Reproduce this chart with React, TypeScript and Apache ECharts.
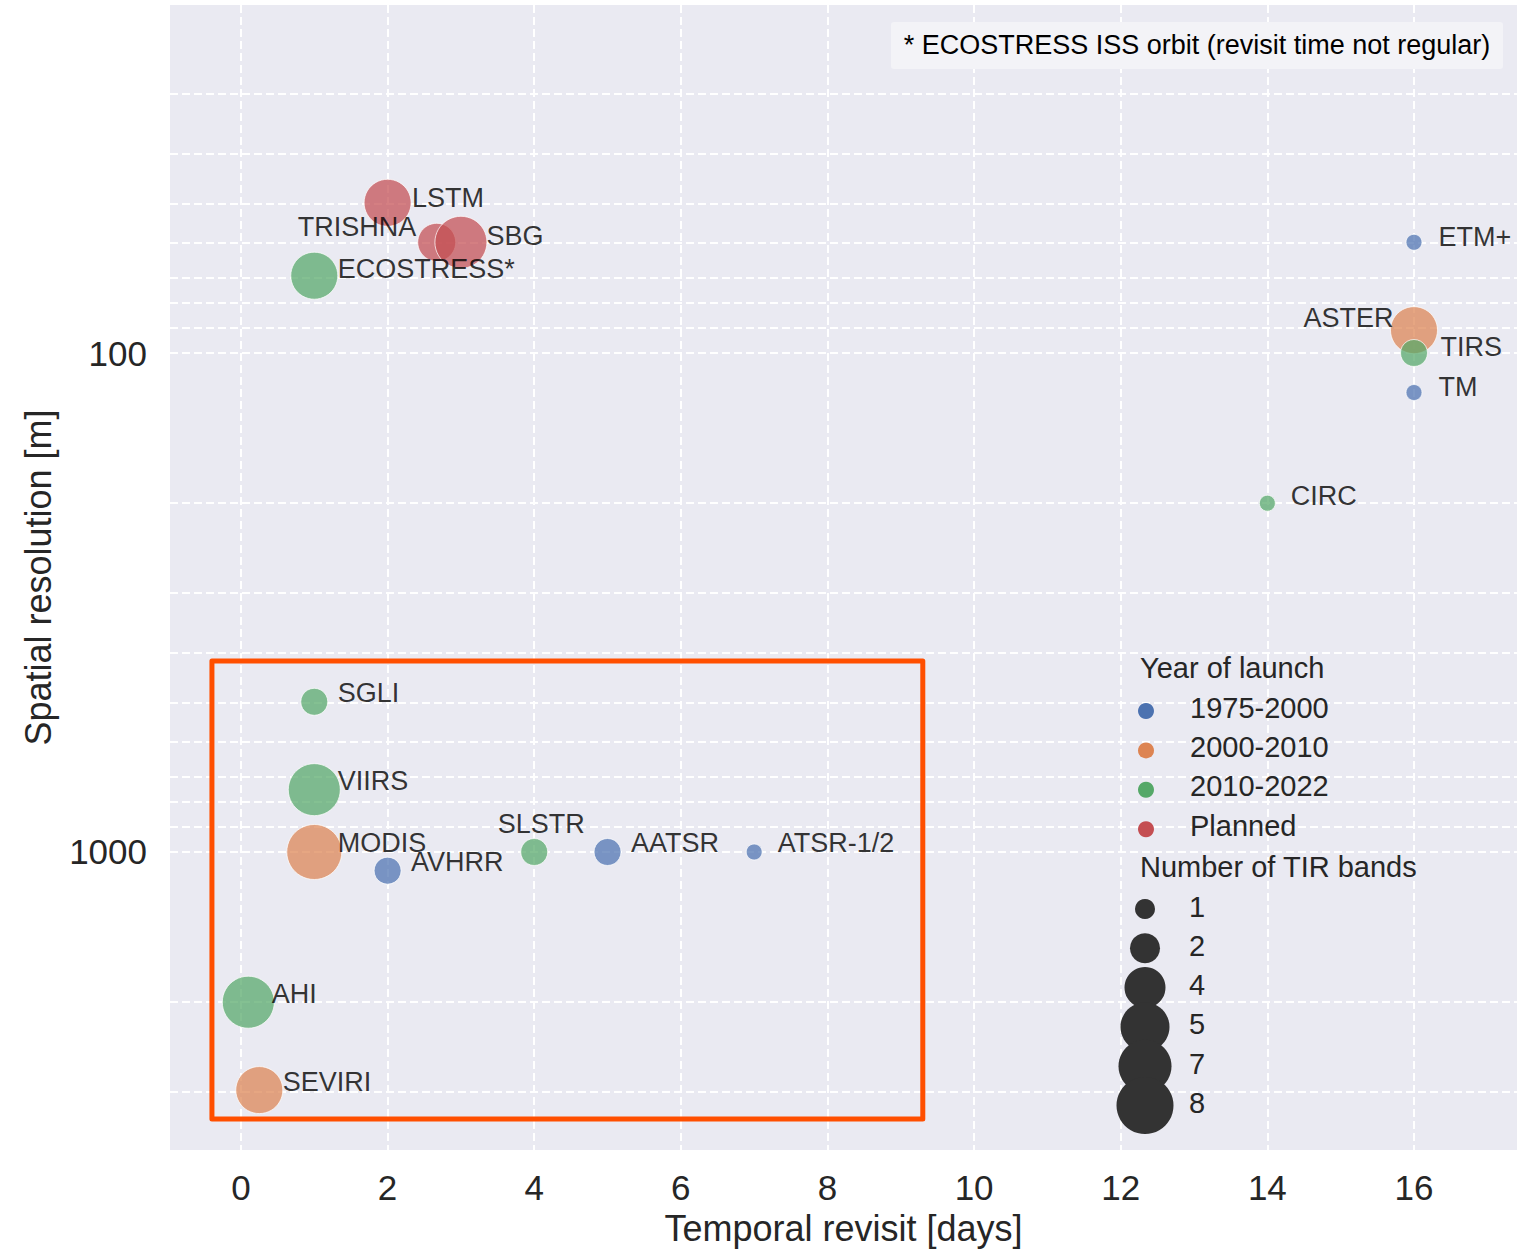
import React, { useEffect, useRef } from 'react';
import * as echarts from 'echarts';

// ---------------- data ----------------
const names = ['ETM+', 'ASTER', 'TIRS', 'TM', 'CIRC', 'LSTM', 'TRISHNA', 'SBG', 'ECOSTRESS*', 'SGLI', 'VIIRS', 'MODIS', 'AVHRR', 'SLSTR', 'AATSR', 'ATSR-1/2', 'AHI', 'SEVIRI'];
const revisitDays = [16, 16, 16, 16, 14, 2, 2.67, 3, 1, 1, 1, 1, 2, 4, 5, 7, 0.1, 0.25];
const resolutionM = [60, 90, 100, 120, 200, 50, 60, 60, 70, 500, 750, 1000, 1090, 1000, 1000, 1000, 2000, 3000];
const tirBands = [1, 5, 2, 1, 1, 5, 4, 7, 5, 2, 7, 8, 2, 2, 2, 1, 7, 5];
const launchGroup = ['1975-2000', '2000-2010', '2010-2022', '1975-2000', '2010-2022', 'Planned', 'Planned', 'Planned', '2010-2022', '2010-2022', '2010-2022', '2000-2010', '1975-2000', '2010-2022', '1975-2000', '1975-2000', '2010-2022', '2000-2010'];

const launchCategories = ['1975-2000', '2000-2010', '2010-2022', 'Planned'];
const bandLegend = [1, 2, 4, 5, 7, 8];
const xTicks = [0, 2, 4, 6, 8, 10, 12, 14, 16];
const yTicks = [100, 1000];
const yGridValues = [30, 40, 50, 60, 70, 80, 90, 100, 200, 300, 400, 500, 600, 700, 800, 900, 1000, 2000, 3000];
const noteText = '* ECOSTRESS ISS orbit (revisit time not regular)';
// highlighted region (data coordinates: days, metres)
const boxDays = [-0.396, 9.3];
const boxMetres = [414, 3428];

// ---------------- styles ----------------
const launchColors = ['#4C72B0', '#DD8452', '#55A868', '#C44E52'];
const pointSize: Record<number, number> = { 1: 16, 2: 27, 4: 38, 5: 47, 7: 52, 8: 55 };
const legendSize: Record<number, number> = { 1: 20, 2: 30, 4: 41, 5: 49, 7: 53, 8: 57 };
const FONT = '"Liberation Sans", Arial, Helvetica, sans-serif';
const labelPlacement: Record<string, any> = {
  TRISHNA: { position: 'left', offset: [-20, -15] },
  ASTER: { position: 'left', offset: [-20, -12] },
  SLSTR: { position: 'inside', offset: [7, -28] },
  LSTM: { position: 'right', offset: [24, -5] },
  SBG: { position: 'right', offset: [25, -6] },
  'ECOSTRESS*': { position: 'right', offset: [23, -7] },
  'ETM+': { position: 'right', offset: [24, -5] },
  TIRS: { position: 'right', offset: [26, -6] },
  TM: { position: 'right', offset: [24, -6] },
  CIRC: { position: 'right', offset: [23, -7] },
};
const defaultPlacement = { position: 'right', offset: [23, -8.5] };

const log10 = (v: number) => Math.log10(v);

function buildOption(): any {
  const groupSeries = launchCategories.map((cat, gi) => ({
    type: 'scatter',
    name: cat,
    z: 3,
    silent: true,
    data: names
      .map((_, i) => i)
      .filter((i) => launchGroup[i] === cat)
      .map((i) => ({ name: names[i], value: [revisitDays[i], log10(resolutionM[i]), tirBands[i]] })),
    symbolSize: (v: number[]) => pointSize[v[2]],
    itemStyle: { color: launchColors[gi], opacity: 0.72, borderColor: '#ffffff', borderWidth: 1 },
    emphasis: { disabled: true },
  }));

  const labelSeries = {
    type: 'scatter',
    name: 'labels',
    z: 6,
    silent: true,
    symbolSize: 1,
    itemStyle: { color: 'rgba(0,0,0,0)' },
    emphasis: { disabled: true },
    data: names.map((n, i) => {
      const p = labelPlacement[n] || defaultPlacement;
      return {
        name: n,
        value: [revisitDays[i], log10(resolutionM[i])],
        label: {
          show: true,
          formatter: n,
          position: p.position,
          distance: 0,
          offset: p.offset,
          fontSize: 27,
          fontFamily: FONT,
          color: '#000000',
        },
      };
    }),
  };

  const gridSeries = {
    type: 'scatter',
    name: 'grid',
    z: 1,
    silent: true,
    data: [],
    markLine: {
      silent: true,
      z: 1,
      symbol: ['none', 'none'],
      label: { show: false },
      emphasis: { disabled: true },
      lineStyle: { color: '#ffffff', width: 2, type: [8, 4], opacity: 1 },
      data: [
        ...xTicks.map((v) => ({ xAxis: v })),
        ...yGridValues.map((v) => ({ yAxis: log10(v) })),
      ],
    },
    markArea: {
      silent: true,
      z: 4,
      emphasis: { disabled: true },
      itemStyle: { color: 'rgba(0,0,0,0)', borderColor: '#FF4F00', borderWidth: 5, borderJoin: 'round' },
      data: [[{ coord: [boxDays[0], log10(boxMetres[0])] }, { coord: [boxDays[1], log10(boxMetres[1])] }]],
    },
  };

  const graphics: any[] = [];
  graphics.push({
    type: 'rect',
    shape: { x: 891, y: 22, width: 612, height: 47, r: 3 },
    style: { fill: '#F3F3F7' },
    z: 10,
  });
  graphics.push({
    type: 'text',
    x: 1197,
    y: 45,
    z: 11,
    style: { text: noteText, fill: '#000000', fontSize: 27, fontFamily: FONT, textAlign: 'center', textVerticalAlign: 'middle' },
  });
  graphics.push({
    type: 'text',
    x: 1140,
    y: 668,
    z: 11,
    style: { text: 'Year of launch', fill: '#262626', fontSize: 29, fontFamily: FONT, textAlign: 'left', textVerticalAlign: 'middle' },
  });
  launchCategories.forEach((cat, i) => {
    const ty = 707.5 + i * 39.4;
    graphics.push({ type: 'circle', z: 11, shape: { cx: 1146, cy: ty + 3.5, r: 8 }, style: { fill: launchColors[i] } });
    graphics.push({
      type: 'text', x: 1190, y: ty, z: 11,
      style: { text: cat, fill: '#262626', fontSize: 29, fontFamily: FONT, textAlign: 'left', textVerticalAlign: 'middle' },
    });
  });
  graphics.push({
    type: 'text',
    x: 1140,
    y: 866.5,
    z: 11,
    style: { text: 'Number of TIR bands', fill: '#262626', fontSize: 29, fontFamily: FONT, textAlign: 'left', textVerticalAlign: 'middle' },
  });
  bandLegend.forEach((b, i) => {
    const ty = 906.5 + i * 39.3;
    graphics.push({ type: 'circle', z: 11, shape: { cx: 1145, cy: ty + 2.5, r: legendSize[b] / 2 }, style: { fill: '#333333' } });
    graphics.push({
      type: 'text', x: 1189, y: ty, z: 12,
      style: { text: String(b), fill: '#262626', fontSize: 29, fontFamily: FONT, textAlign: 'left', textVerticalAlign: 'middle' },
    });
  });

  return {
    animation: false,
    backgroundColor: '#ffffff',
    textStyle: { fontFamily: FONT },
    grid: {
      show: true,
      backgroundColor: '#EAEAF2',
      borderWidth: 0,
      left: 170,
      right: 2,
      top: 5,
      bottom: 100,
      containLabel: false,
      outerBoundsMode: 'none',
    },
    xAxis: {
      type: 'value',
      min: -0.968,
      max: 17.405,
      axisLine: { show: false },
      axisTick: { show: false },
      splitLine: { show: false },
      axisLabel: {
        customValues: xTicks,
        fontSize: 35,
        fontFamily: FONT,
        color: '#262626',
        margin: 20,
        formatter: (v: number) => String(Math.round(v)),
      },
      name: 'Temporal revisit [days]',
      nameLocation: 'middle',
      nameGap: 60,
      nameTextStyle: { fontSize: 36, fontFamily: FONT, color: '#262626' },
    },
    yAxis: {
      type: 'value',
      inverse: true,
      min: 1.3026,
      max: 3.5972,
      axisLine: { show: false },
      axisTick: { show: false },
      splitLine: { show: false },
      axisLabel: {
        customValues: yTicks.map(log10),
        fontSize: 35,
        fontFamily: FONT,
        color: '#262626',
        margin: 23,
        formatter: (v: number) => String(Math.round(Math.pow(10, v))),
      },
      name: 'Spatial resolution [m]',
      nameLocation: 'middle',
      nameGap: 114,
      nameTextStyle: { fontSize: 36, fontFamily: FONT, color: '#262626' },
    },
    series: [gridSeries, ...groupSeries, labelSeries],
    graphic: graphics,
  };
}

export default function App() {
  const ref = useRef<HTMLDivElement>(null);
  useEffect(() => {
    if (!ref.current) return;
    const chart = echarts.init(ref.current, null, { renderer: 'svg' });
    chart.setOption(buildOption());
    return () => chart.dispose();
  }, []);
  return (
    <div
      ref={ref}
      style={{ position: 'absolute', left: 0, top: 0, width: 1519, height: 1250, background: '#fff' }}
    />
  );
}
